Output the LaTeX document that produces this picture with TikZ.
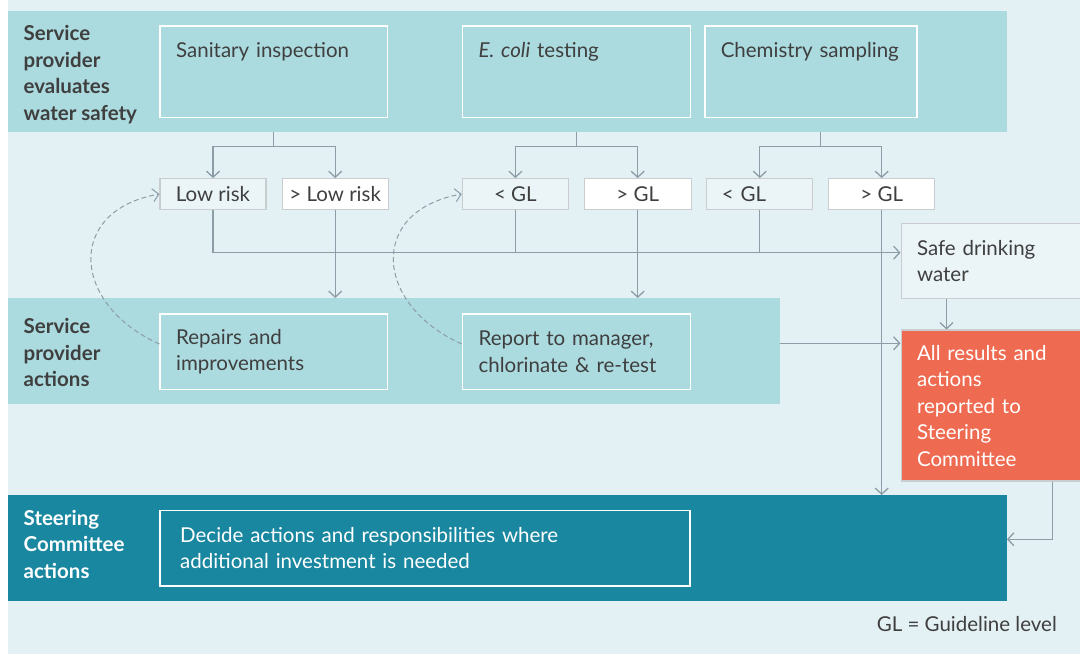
\documentclass[tikz,border=0pt]{standalone}
\usepackage{fontspec}
\setmainfont{Lato}
\usetikzlibrary{arrows.meta, positioning, calc}
\definecolor{wsp_page}{HTML}{E3F1F5}
\definecolor{wsp_band}{HTML}{ABDADF}
\definecolor{wsp_dark}{HTML}{1A87A0}
\definecolor{wsp_orange}{HTML}{EE6A50}
\definecolor{wsp_line}{HTML}{8C9DA7}
\definecolor{wsp_frame}{HTML}{C9CDD0}
\definecolor{wsp_light}{HTML}{EBF5F8}
\definecolor{wsp_text}{HTML}{3F3F3F}
\newcommand{\wspfont}{\fontsize{20.5}{26.5}\selectfont}
\tikzset{
  band/.style={fill=wsp_band,anchor=north west,inner sep=0,outer sep=0},
  bandlabel/.style={anchor=north west,align=left,inner sep=0,text=wsp_text,font=\wspfont\bfseries},
  evalbox/.style={draw=white,line width=1.5pt,anchor=north west,align=left,inner xsep=16pt,inner ysep=0,text height=31pt,text depth=60.3pt,text=wsp_text,font=\wspfont},
  actionbox/.style={draw=white,line width=1.5pt,anchor=north west,align=left,inner xsep=16pt,text=wsp_text,font=\wspfont},
  outcome/.style={draw=wsp_frame,line width=1.2pt,fill=wsp_light,minimum width=106pt,minimum height=30.7pt,inner sep=0,text=wsp_text,font=\wspfont},
  outcome_w/.style={outcome,fill=white},
  flow/.style={draw=wsp_line,line width=1.3pt,-{Straight Barb[length=6pt,width=13pt]}},
  flowline/.style={draw=wsp_line,line width=1.3pt},
  feedback/.style={flow,line width=1pt,dash pattern=on 5pt off 3pt},
}

\begin{document}
\begin{tikzpicture}[x=1pt,y=1pt]
  \useasboundingbox (0,0) rectangle (1080,654);
  \fill[wsp_page] (7.5,0) rectangle (1080,654);
  % bands
  \node[band,minimum width=999.5pt,minimum height=120.7pt] (evalband) at (7.5,643) {};
  \node[band,minimum width=772.5pt,minimum height=105.7pt] (actionband) at (7.5,356) {};
  \node[band,fill=wsp_dark,minimum width=999.5pt,minimum height=105.7pt] (steerband) at (7.5,159) {};
  \node[bandlabel] (evallabel) at (23.5,628.5) {Service\\provider\\evaluates\\water safety};
  \node[bandlabel] (actionlabel) at (23.5,335.7) {Service\\provider\\actions};
  \node[bandlabel,text=white] (steerlabel) at (23.5,144) {Steering\\Committee\\actions};

  % evaluation
  \node[evalbox,text width=195.3pt] (sanitary) at (159.4,628.7) {Sanitary inspection};
  \node[evalbox,text width=195.7pt] (ecoli) at (461.8,628.7) {\emph{E. coli} testing};
  \node[evalbox,text width=180.4pt] (chemistry) at (704,628.7) {Chemistry sampling};

  % outcomes
  \node[outcome,below=60pt of sanitary.south west,anchor=north west] (lowrisk) {Low risk};
  \node[outcome_w,right=15pt of lowrisk] (highrisk) {> Low risk};
  \node[outcome,below=60pt of ecoli.south west,anchor=north west] (ecolilow) {< GL};
  \node[outcome_w,minimum width=106.8pt,right=14.7pt of ecolilow] (ecolihigh) {> GL};
  \node[outcome,right=14.5pt of ecolihigh,text width=76pt,inner xsep=15pt,align=left] (chemlow) {< GL};
  \node[outcome_w,right=14.7pt of chemlow] (chemhigh) {> GL};
  \node[outcome,minimum height=75pt,text width=147pt,inner xsep=16pt,align=left,anchor=north west] (safe) at (900.5,431.3) {Safe drinking\\water};
  \node[outcome,fill=wsp_orange,text=white,minimum height=151pt,text width=147pt,inner xsep=16pt,align=left,below=30.6pt of safe.south west,anchor=north west] (results) {All results and\\actions\\reported to\\Steering\\Committee};

  % actions
  \node[actionbox,text width=195.3pt,minimum height=75.3pt] (repairs) at (159.4,340.7) {Repairs and\\improvements};
  \node[actionbox,text width=195.7pt,minimum height=75.3pt] (report) at (461.8,340.7) {Report to manager,\\chlorinate \& re-test};
  \node[actionbox,text=white,text width=490pt,inner xsep=20pt,minimum height=75.6pt] (decide) at (159.4,144.3) {Decide actions and responsibilities where\\additional investment is needed};

  \node[font=\wspfont,text=wsp_text,anchor=base east,inner sep=0] (legend) at (1057,22.3) {GL = Guideline level};

  % connectors
  \coordinate (safeline) at (0,401.3);
  \coordinate (reportline) at (0,310.7);
  \coordinate (steerline) at (0,114.7);
  \coordinate (chemmid) at ($(chemlow.north)!0.5!(chemhigh.north)$);
  \draw[flowline] (sanitary.south |- evalband.south) -- ++(0,-14.7) coordinate (sanfork);
  \draw[flow] (sanfork) -| (lowrisk);
  \draw[flow] (sanfork) -| (highrisk);
  \draw[flowline] (ecoli.south |- evalband.south) -- ++(0,-14.7) coordinate (ecolifork);
  \draw[flow] (ecolifork) -| (ecolilow);
  \draw[flow] (ecolifork) -| (ecolihigh);
  \draw[flowline] (chemmid |- evalband.south) -- ++(0,-14.7) coordinate (chemfork);
  \draw[flow] (chemfork) -| (chemlow);
  \draw[flow] (chemfork) -| (chemhigh);

  \draw[flow] (lowrisk) |- (safe.west |- safeline);
  \draw[flowline] (ecolilow) -- (ecolilow.south |- safeline);
  \draw[flowline] (chemlow) -- (chemlow.south |- safeline);
  \draw[flow] (highrisk) -- (highrisk.south |- actionband.north);
  \draw[flow] (ecolihigh) -- (ecolihigh.south |- actionband.north);
  \draw[flow] (chemhigh) -- (chemhigh.south |- steerband.north);
  \draw[flow] ($(safe.south west)+(46,0)$) -- ($(results.north west)+(46,0)$);
  \draw[flow] (actionband.east |- reportline) -- (results.west |- reportline);
  \draw[flow] ($(results.south west)+(152,0)$) |- (steerband.east |- steerline);

  \draw[feedback] ($(repairs.west)+(0,7.7)$) .. controls +(156:96) and +(190:96) .. (lowrisk.west);
  \draw[feedback] ($(report.west)+(0,7.7)$) .. controls +(156:96) and +(190:96) .. (ecolilow.west);
\end{tikzpicture}
\end{document}
